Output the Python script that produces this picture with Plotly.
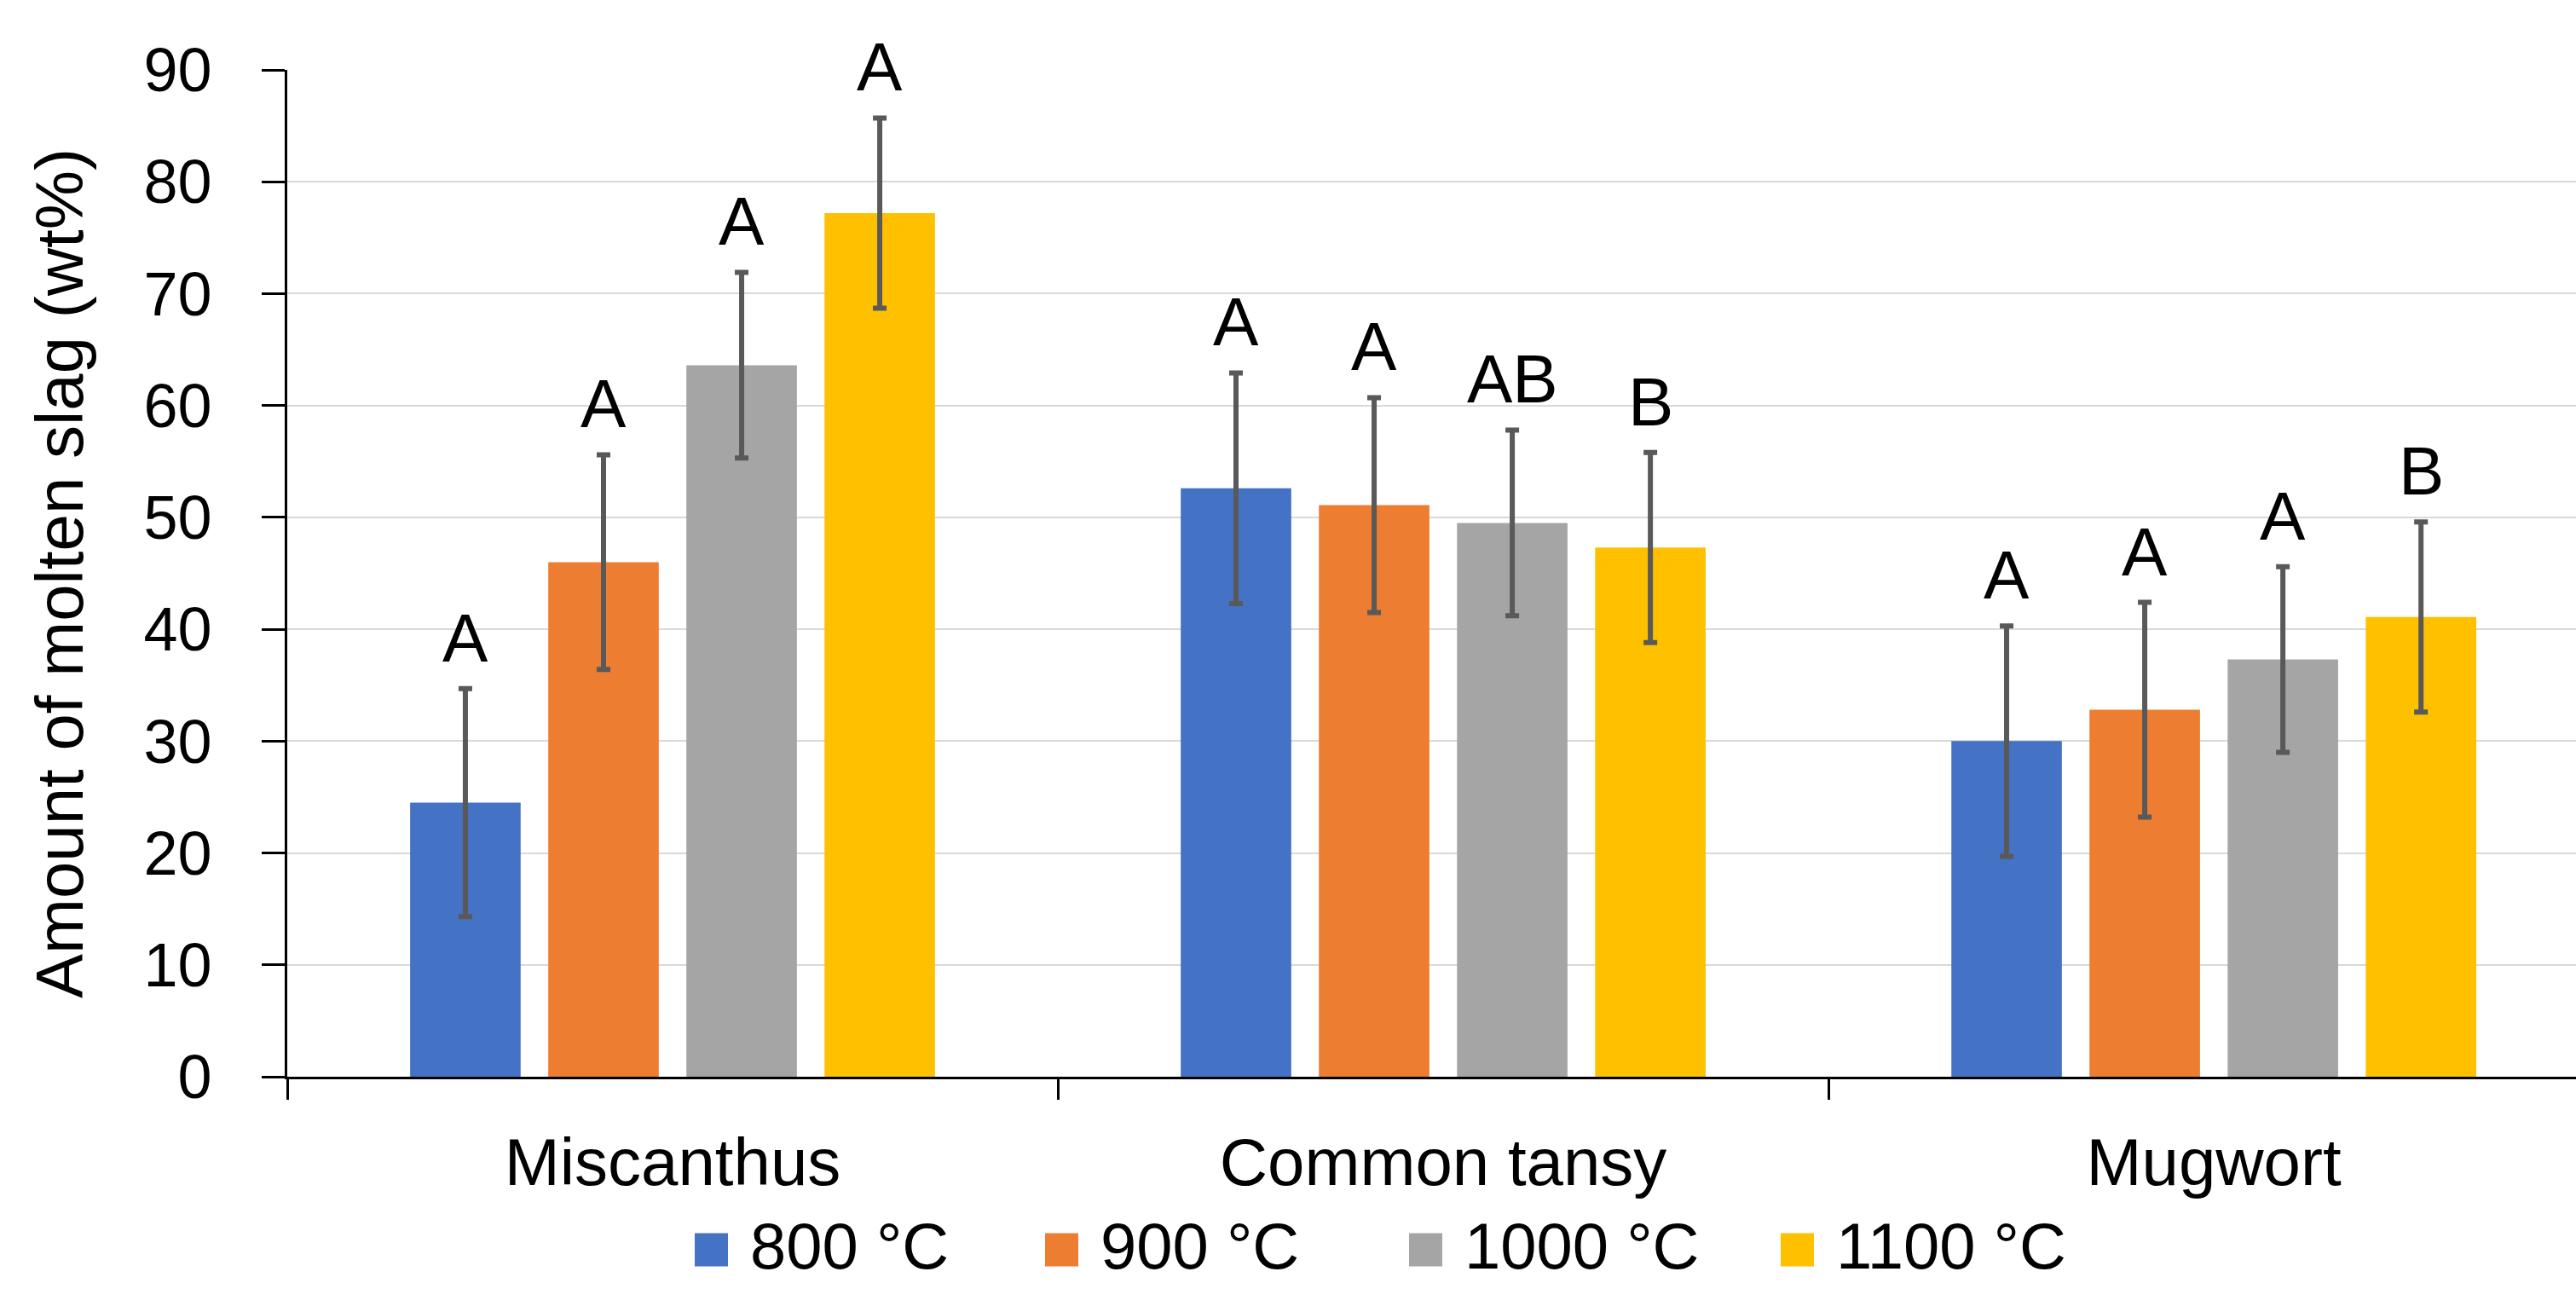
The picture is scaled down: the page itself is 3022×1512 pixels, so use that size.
import plotly.graph_objects as go

# ---------------- data ----------------
categories = ["Miscanthus", "Common tansy", "Mugwort"]
series_names = ["800 °C", "900 °C", "1000 °C", "1100 °C"]
vals_800 = [24.5, 52.6, 30.0]
vals_900 = [46.0, 51.1, 32.8]
vals_1000 = [63.6, 49.5, 37.3]
vals_1100 = [77.2, 47.3, 41.1]
err_800 = [10.2, 10.3, 10.3]
err_900 = [9.6, 9.6, 9.6]
err_1000 = [8.3, 8.3, 8.3]
err_1100 = [8.5, 8.5, 8.5]
letters_800 = ["A", "A", "A"]
letters_900 = ["A", "A", "A"]
letters_1000 = ["A", "AB", "A"]
letters_1100 = ["A", "B", "B"]
y_ticks = [0, 10, 20, 30, 40, 50, 60, 70, 80, 90]

colors = ["#4472C4", "#ED7D31", "#A5A5A5", "#FFC000"]
values = [vals_800, vals_900, vals_1000, vals_1100]
errors = [err_800, err_900, err_1000, err_1100]
letters = [letters_800, letters_900, letters_1000, letters_1100]

FONT = "Liberation Sans, Arial, sans-serif"
W, H = 3022, 1512
ML, MR, MT, MB = 337, 0, 82, 249
BARGAP = 0.283
BARGROUPGAP = 0.2
XRANGE = [-0.5, 2.47]

fig = go.Figure()
for name, v, e, c in zip(series_names, values, errors, colors):
    fig.add_trace(go.Bar(
        name=name, x=categories, y=v, marker_color=c, marker_line_width=0,
        error_y=dict(type="data", array=e, visible=True, color="#595959",
                     thickness=6, width=8),
        showlegend=False,
    ))

# significance letters above error bars
n = len(series_names)
slot = (1 - BARGAP) / n
annotations = []
for i, (v, e, lab) in enumerate(zip(values, errors, letters)):
    off = (i - (n - 1) / 2) * slot
    for j in range(len(categories)):
        annotations.append(dict(
            x=j + off, y=v[j] + e[j] + 1.0, xref="x", yref="y",
            text=lab[j], showarrow=False, yanchor="bottom", xanchor="center",
            font=dict(family=FONT, size=80, color="black"),
        ))

# custom legend (large square swatches)
pw = W - ML - MR
ph = H - MT - MB
def px_x(px):
    return (px - ML) / pw
def px_y(py):
    return (H - MB - py) / ph

swatch_left = [815, 1226, 1653, 2089]
sw = 39
leg_cy = 1466
text_cy = 1461
shapes = []
for sx, c, name in zip(swatch_left, colors, series_names):
    shapes.append(dict(type="rect", xref="paper", yref="paper",
                       x0=px_x(sx), x1=px_x(sx + sw),
                       y0=px_y(leg_cy + sw / 2), y1=px_y(leg_cy - sw / 2),
                       fillcolor=c, line_width=0))
    annotations.append(dict(x=px_x(sx + sw + 24), y=px_y(text_cy), xref="paper", yref="paper",
                            text=name, showarrow=False, xanchor="left", yanchor="middle",
                            font=dict(family=FONT, size=76, color="black")))

fig.update_layout(
    width=W, height=H,
    margin=dict(l=ML, r=MR, t=MT, b=MB, autoexpand=False),
    paper_bgcolor="white", plot_bgcolor="white",
    barmode="group", bargap=BARGAP, bargroupgap=BARGROUPGAP,
    font=dict(family=FONT, color="black"),
    annotations=annotations, shapes=shapes,
    showlegend=False,
)
fig.update_xaxes(
    type="category", range=XRANGE, tickson="boundaries",
    ticks="outside", ticklen=24, tickwidth=3, tickcolor="black",
    showline=True, linecolor="black", linewidth=3,
    showgrid=False, tickfont=dict(family=FONT, size=78, color="black"),
    ticklabelstandoff=30,
)
fig.update_yaxes(
    range=[0, 90], tickvals=y_ticks,
    ticks="outside", ticklen=27, tickwidth=3, tickcolor="black",
    showline=True, linecolor="black", linewidth=3,
    showgrid=True, gridcolor="#D9D9D9", gridwidth=2,
    zeroline=False,
    tickfont=dict(family=FONT, size=72, color="black"),
    ticklabelstandoff=44,
    title=dict(text="Amount of molten slag (wt%)", font=dict(family=FONT, size=78, color="black"),
               standoff=46),
)

fig.write_html("out.html", config={"displayModeBar": False},
               post_script="document.body.style.margin='0px'; document.body.style.overflow='hidden';")
